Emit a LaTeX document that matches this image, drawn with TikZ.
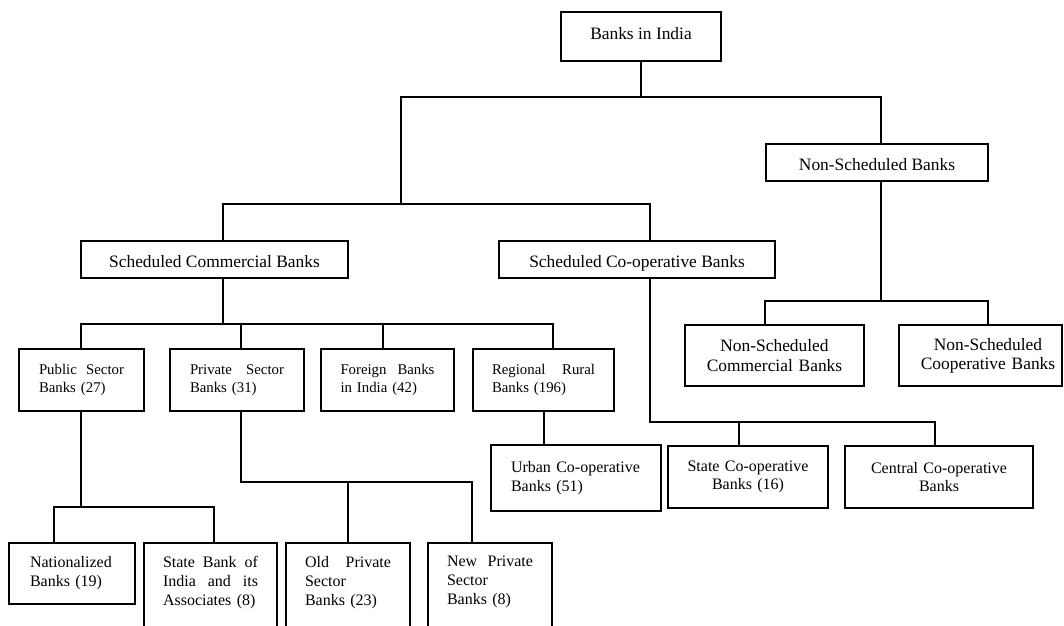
\documentclass[tikz,border=0pt]{standalone}
\usepackage{fontspec}
\setmainfont{Liberation Serif}
\begin{document}
\begin{tikzpicture}[x=1pt,y=-1pt,
  ln/.style={line width=2pt, line cap=rect},
  bx/.style={draw, line width=2pt, inner sep=0pt, align=center},
  big/.style={font=\fontsize{17.4}{19.3}\selectfont},
  one/.style={text height=15.6pt, text depth=0pt},
  mid/.style={font=\fontsize{14.8}{18.3}\selectfont},
  sm/.style={font=\fontsize{16}{18.3}\selectfont},
  bot/.style={font=\fontsize{16}{19}\selectfont},
  openbox/.style={anchor=north, inner xsep=19pt, inner ysep=13pt, align=left, bot}
]
\useasboundingbox (0,0) rectangle (1064,625);

% level 0 / 1
\node[bx, big, minimum width=160pt, minimum height=49pt, text height=9pt, text depth=4pt] (india) at (641,36.5) {Banks in India};
\node[bx, big, one, minimum width=222pt, minimum height=37pt] (nsb) at (877,162.5) {Non-Scheduled Banks};
\node[bx, big, one, minimum width=267pt, minimum height=37pt] (scb) at (214.5,259.5) {Scheduled Commercial Banks};
\node[bx, big, one, minimum width=276pt, minimum height=37pt] (sco) at (637,259.5) {Scheduled Co-operative Banks};

% non-scheduled children
\node[bx, big, minimum width=179pt, minimum height=61pt, text width=170pt] (nsc) at (774.5,355.5) {Non-Scheduled\\Commercial Banks};
\node[inner sep=0pt, align=center, big, minimum width=178pt, minimum height=61pt, text width=170pt] (nscoop) at (988,355.5) {Non-Scheduled\\Cooperative Banks};
\coordinate (nsr) at (1062,325);
\draw[line width=2pt] (nscoop.south west) rectangle (nsr);

% scheduled commercial children
\node[bx, mid, align=left, minimum width=125pt, minimum height=62pt, text width=85pt] (psb) at (81.5,380) {Public\hfill Sector\\Banks (27)};
\node[bx, mid, align=left, minimum width=134pt, minimum height=62pt, text width=94pt] (pvt) at (237,380) {Private\hfill Sector\\Banks (31)};
\node[bx, mid, align=left, minimum width=133pt, minimum height=62pt, text width=94pt] (fbi) at (387.5,380) {Foreign\hfill Banks\\in India (42)};
\node[bx, mid, align=left, minimum width=141pt, minimum height=62pt, text width=103pt] (rrb) at (543.5,380) {Regional\hfill Rural\\Banks (196)};

% co-operative children
\node[bx, sm, align=left, minimum width=170pt, minimum height=66pt, text width=130pt] (ucb) at (576,478) {Urban Co-operative\\Banks (51)};
\node[bx, sm, minimum width=160pt, minimum height=62pt, text width=150pt] (stc) at (748,477) {State Co-operative\\Banks (16)};
\node[bx, sm, minimum width=188pt, minimum height=62pt, text width=178pt] (ccb) at (939,477) {Central Co-operative\\Banks};

% bottom row
\node[bx, bot, align=left, minimum width=126pt, minimum height=61pt, text width=84pt] (nat) at (72,573.5) {Nationalized\\Banks (19)};
\node[openbox, text width=95pt] (sbi) at (210.5,543) {State\hfill Bank\hfill of\\India\hfill and\hfill its\\Associates (8)};
\node[openbox, text width=86pt] (opb) at (348,543) {Old\hfill Private\\Sector\\Banks (23)};
\node[openbox, text width=86pt] (npb) at (490,543) {New\hfill Private\\Sector\\Banks (8)};
\foreach \b in {sbi,opb,npb}{
  \draw[line width=2pt] ([yshift=-120pt]\b.north west) -- (\b.north west) -- (\b.north east) -- ([yshift=-120pt]\b.north east);
}

% connectors: top
\coordinate (t1) at (401,97);
\coordinate (t2) at (881,97);
\coordinate (s1) at (223,204);
\coordinate (s2) at (650,204);
\draw[ln] (india.south) -- (india.south |- t1);
\draw[ln] (t1) -- (t2);
\draw[ln] (t2) -- (t2 |- nsb.north);
\draw[ln] (t1) -- (t1 |- s1);
\draw[ln] (s1) -- (s2);
\draw[ln] (s1) -- (s1 |- scb.north);
\draw[ln] (s2) -- (s2 |- sco.north);

% non-scheduled
\coordinate (n0) at (881,301);
\coordinate (n1) at (765,301);
\coordinate (n2) at (988,301);
\draw[ln] (nsb.south -| n0) -- (n0);
\draw[ln] (n1) -- (n2);
\draw[ln] (n1) -- (n1 |- nsc.north);
\draw[ln] (n2) -- (n2 |- nscoop.north);

% scheduled commercial
\coordinate (c0) at (223,324);
\coordinate (c1) at (81,324);
\coordinate (c2) at (241,324);
\coordinate (c3) at (383,324);
\coordinate (c4) at (553,324);
\draw[ln] (scb.south -| c0) -- (c0);
\draw[ln] (c1) -- (c4);
\draw[ln] (c1) -- (c1 |- psb.north);
\draw[ln] (c2) -- (c2 |- pvt.north);
\draw[ln] (c3) -- (c3 |- fbi.north);
\draw[ln] (c4) -- (c4 |- rrb.north);

% public sector
\coordinate (p0) at (81,507);
\coordinate (p1) at (54,507);
\coordinate (p2) at (214,507);
\draw[ln] (psb.south -| p0) -- (p0);
\draw[ln] (p1) -- (p2);
\draw[ln] (p1) -- (p1 |- nat.north);
\draw[ln] (p2) -- (p2 |- sbi.north);

% private sector
\coordinate (v0) at (241,482);
\coordinate (v1) at (348,482);
\coordinate (v2) at (472,482);
\draw[ln] (pvt.south -| v0) -- (v0) -- (v2);
\draw[ln] (v1) -- (v1 |- opb.north);
\draw[ln] (v2) -- (v2 |- npb.north);

% regional rural -> urban
\coordinate (r0) at (544,411);
\draw[ln] (rrb.south -| r0) -- (r0 |- ucb.north);

% scheduled co-operative
\coordinate (k0) at (650,422);
\coordinate (k1) at (739,422);
\coordinate (k2) at (935,422);
\draw[ln] (sco.south -| k0) -- (k0) -- (k2);
\draw[ln] (k1) -- (k1 |- stc.north);
\draw[ln] (k2) -- (k2 |- ccb.north);
\end{tikzpicture}
\end{document}
